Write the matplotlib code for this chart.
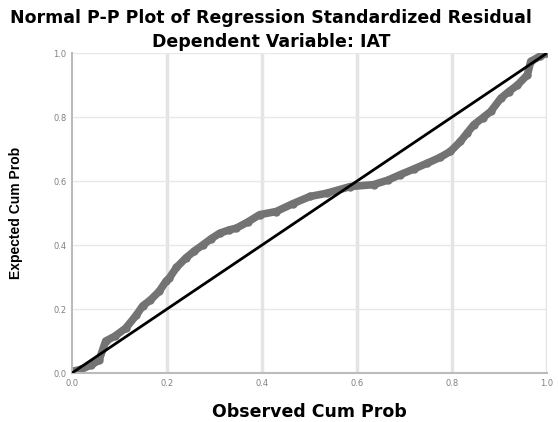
import matplotlib.pyplot as plt

# observed vs expected cumulative probabilities
observed = [0.000, 0.020, 0.040, 0.057, 0.071, 0.090, 0.113, 0.135, 0.149, 0.165,
            0.184, 0.198, 0.205, 0.220, 0.240, 0.258, 0.275, 0.293, 0.311, 0.330,
            0.346, 0.370, 0.395, 0.430, 0.466, 0.501, 0.536, 0.586, 0.635, 0.665,
            0.691, 0.720, 0.748, 0.775, 0.797, 0.818, 0.832, 0.846, 0.865, 0.882,
            0.903, 0.920, 0.938, 0.959, 0.966, 0.985, 1.000]
expected = [0.005, 0.012, 0.025, 0.040, 0.100, 0.115, 0.140, 0.180, 0.210, 0.228,
            0.256, 0.287, 0.297, 0.330, 0.360, 0.382, 0.400, 0.420, 0.437, 0.447,
            0.453, 0.472, 0.495, 0.505, 0.530, 0.552, 0.562, 0.583, 0.589, 0.603,
            0.620, 0.638, 0.656, 0.674, 0.693, 0.724, 0.750, 0.776, 0.798, 0.818,
            0.859, 0.880, 0.900, 0.932, 0.974, 0.990, 1.000]

ticks = [0.0, 0.2, 0.4, 0.6, 0.8, 1.0]
tick_labels = ["0.0", "0.2", "0.4", "0.6", "0.8", "1.0"]


def main():
    fig = plt.figure(figsize=(5.58, 4.22), dpi=100)
    ax = fig.add_axes([0.129, 0.116, 0.851, 0.758])

    for t in ticks[1:]:
        ax.axvline(t, color="#e4e4e4", linewidth=2.5, zorder=0)
        ax.axhline(t, color="#e8e8e8", linewidth=1.0, zorder=0)

    ax.plot(observed, expected, color="#737373", linewidth=5.5,
            marker="o", markersize=5, solid_capstyle="round", zorder=2)
    ax.plot([0, 1], [0, 1], color="black", linewidth=2, zorder=3)

    ax.set_xlim(0, 1)
    ax.set_ylim(0, 1)
    ax.set_xticks(ticks, tick_labels)
    ax.set_yticks(ticks, tick_labels)
    ax.tick_params(labelsize=6, colors="#808080", length=0, pad=4)
    for side in ("top", "right"):
        ax.spines[side].set_visible(False)
    for side in ("left", "bottom"):
        ax.spines[side].set_color("#bbbbbb")
        ax.spines[side].set_linewidth(1.5)

    ax.set_xlabel("Observed Cum Prob", fontsize=12.5, fontweight="bold", labelpad=11)
    ax.set_ylabel("Expected Cum Prob", fontsize=10, fontweight="bold", labelpad=22,
                  family=["Liberation Sans", "DejaVu Sans"])
    fig.text(0.486, 0.957, "Normal P-P Plot of Regression Standardized Residual",
             ha="center", va="center", fontsize=12.5, fontweight="bold")
    fig.text(0.486, 0.900, "Dependent Variable: IAT",
             ha="center", va="center", fontsize=12.5, fontweight="bold")

    fig.savefig("out.png", dpi=100)


if __name__ == "__main__":
    main()
